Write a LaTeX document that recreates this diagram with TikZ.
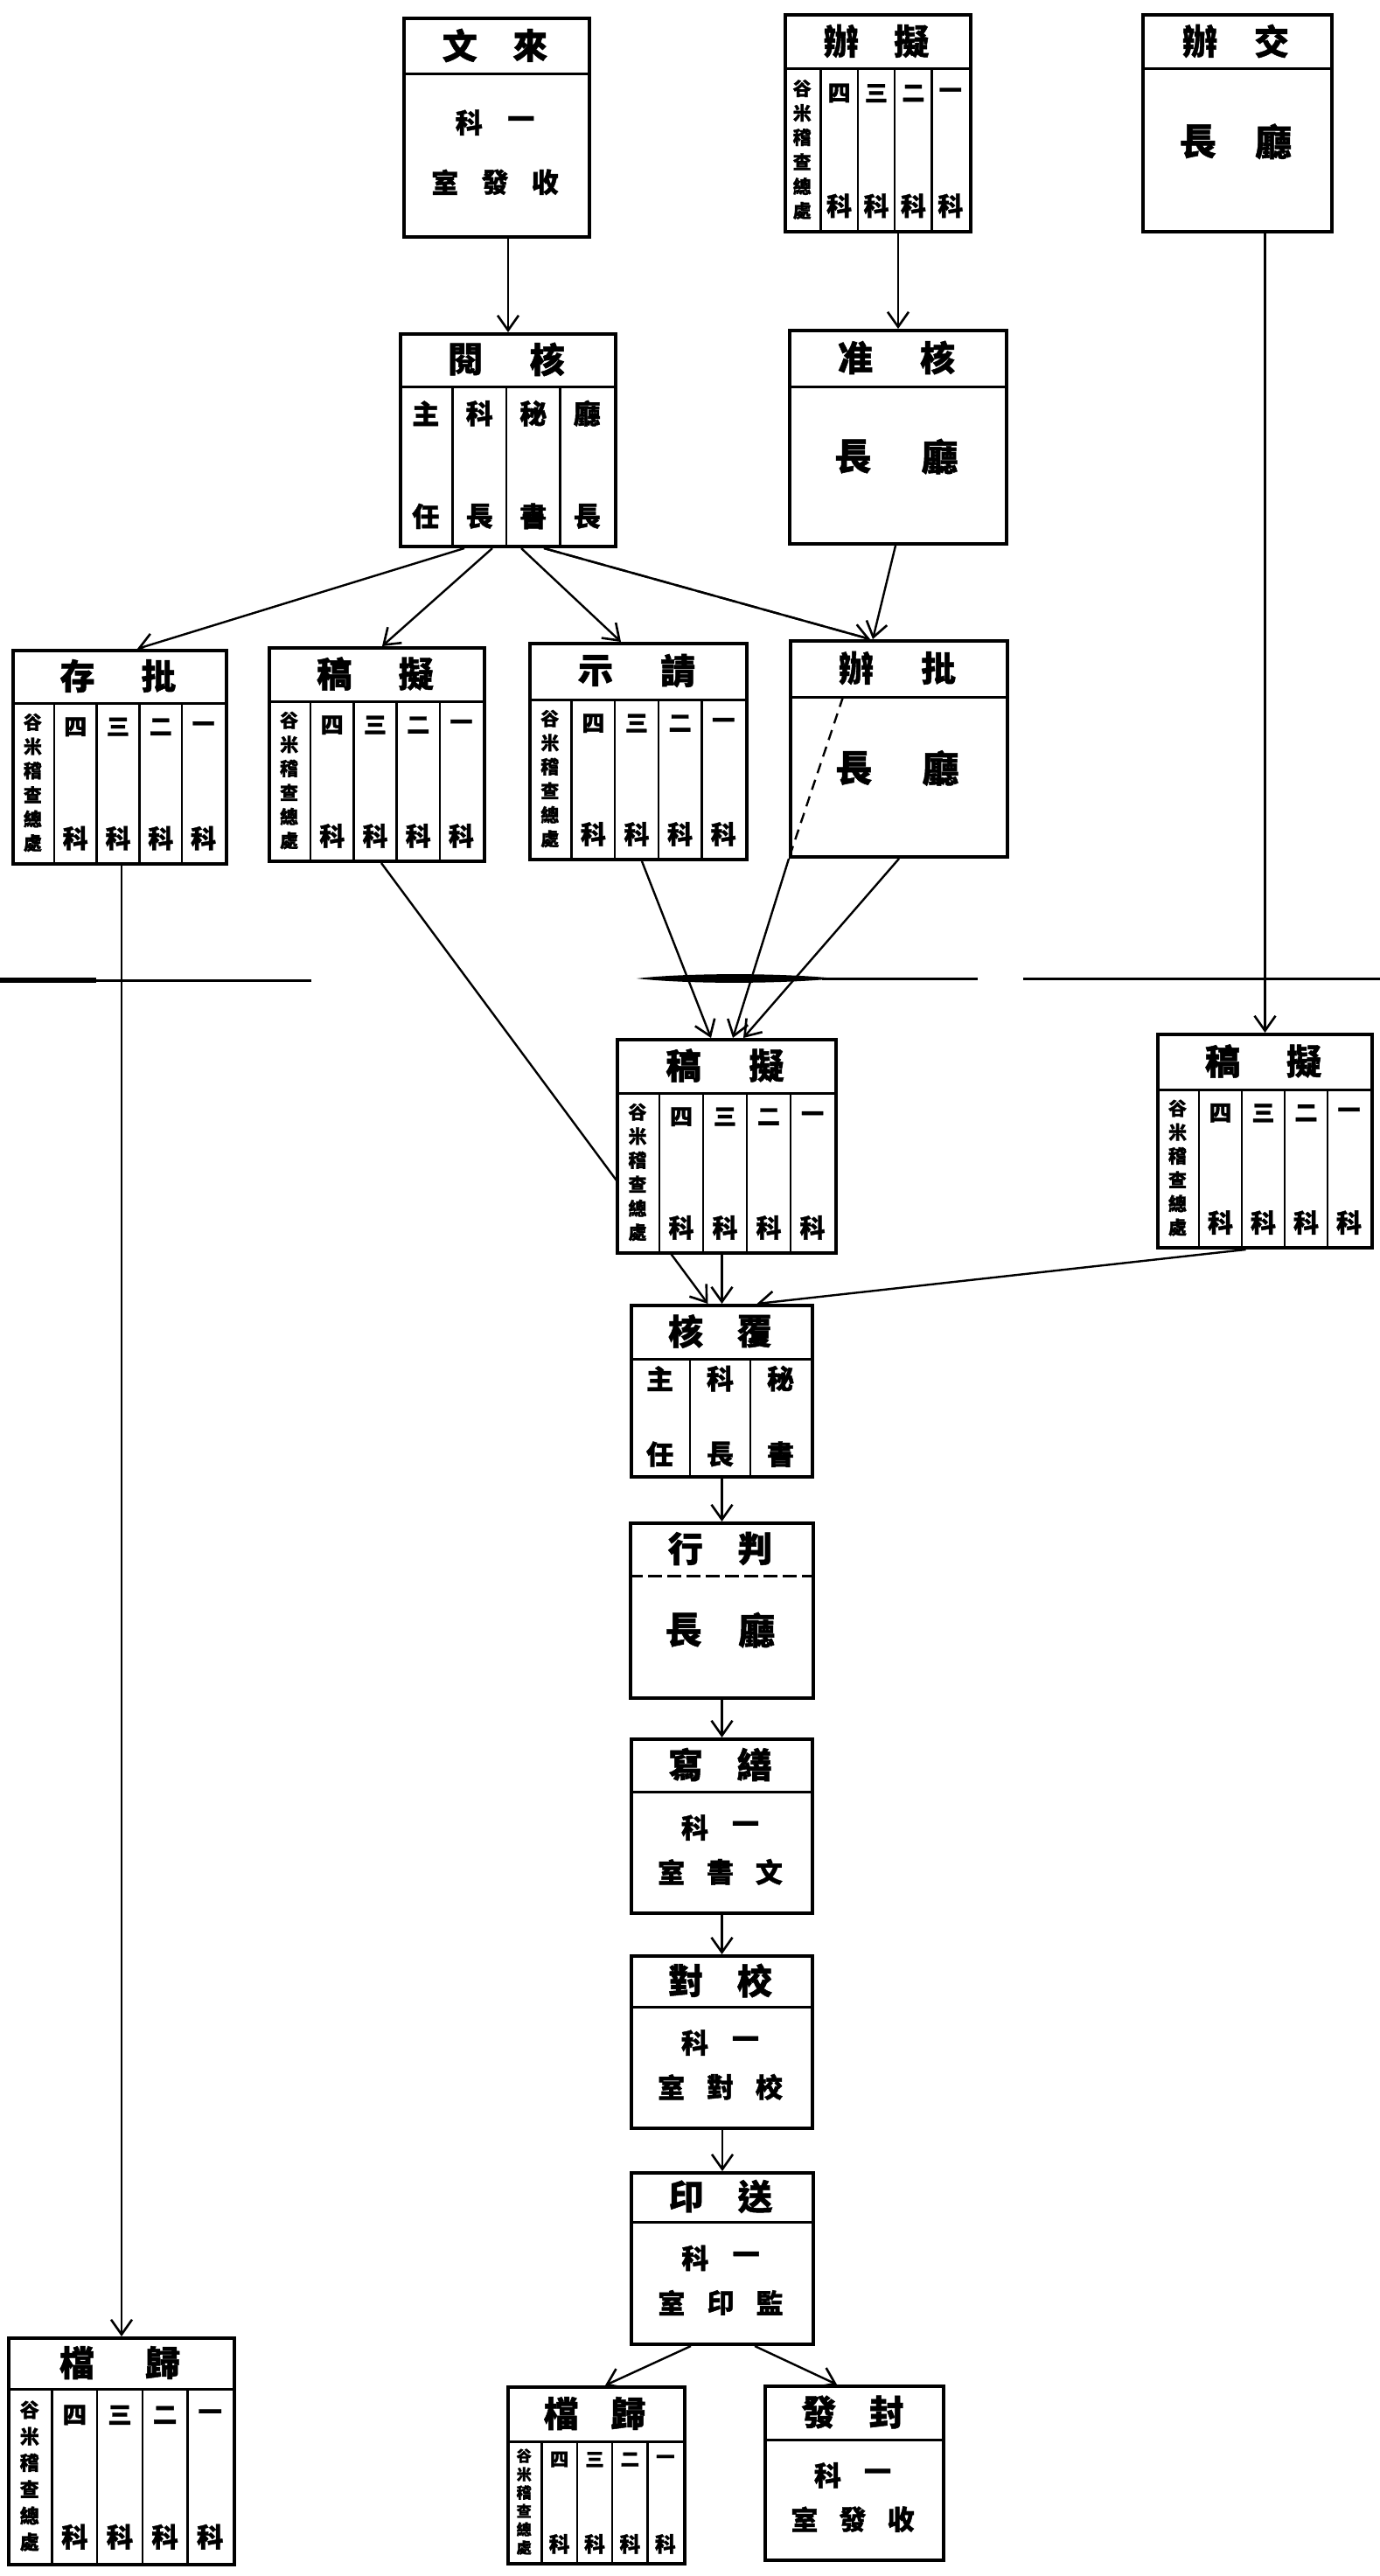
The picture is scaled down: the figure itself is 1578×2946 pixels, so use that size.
\documentclass[tikz,border=0pt]{standalone}
\usepackage{fontspec}
\newfontfamily\cjk{Noto Sans CJK TC}[BoldFeatures={FakeBold=1.2}]
\usetikzlibrary{arrows.meta,calc}
\pgfdeclarelayer{back}
\pgfsetlayers{back,main}
\tikzset{
  boxst/.style={draw, line width=4pt, fill=white, inner sep=0pt, rectangle},
  divst/.style={line width=3pt},
  colst/.style={line width=2.5pt},
  conn/.style={line width=2.4pt},
  arr/.style={conn, -{Straight Barb[length=17pt,width=24pt,line width=2.6pt]}},
  dconn/.style={conn, dash pattern=on 20pt off 6pt},
  txt/.style={inner sep=0pt, font={\cjk\bfseries\fontsize{#1}{#1}\selectfont}},
  txt/.default=30,
  rule/.style={line width=3pt},
}
% box: [divider style] name, left, top, width, height, header height
\newcommand\drawbox[7][solid]{%
  \def\mbL{#3}\def\mbT{#4}\def\mbW{#5}\def\mbH{#6}\def\mbHH{#7}%
  \node[boxst, minimum width=#5pt, minimum height=#6pt, anchor=north west] (#2) at (#3,#4) {};
  \pgfmathsetmacro\myY{#4+#7}\pgfmathsetmacro\myR{#3+#5}%
  \draw[divst,#1] (#3,\myY) -- (\myR,\myY);
}
\newcommand\dohead[3]{%
  \pgfmathsetmacro\myY{\mbT+\mbHH/2}%
  \pgfmathsetmacro\myXa{\mbL+0.31*\mbW}%
  \pgfmathsetmacro\myXb{\mbL+0.69*\mbW}%
  \node[txt=40] (#1-h1) at (\myXa,\myY) {#2};
  \node[txt=40] (#1-h2) at (\myXb,\myY) {#3};
}
\newcommand\dobodyA[1]{%
  \pgfmathsetmacro\myY{\mbT+\mbHH+0.45*(\mbH-\mbHH)}%
  \pgfmathsetmacro\myXa{\mbL+0.30*\mbW}%
  \pgfmathsetmacro\myXb{\mbL+0.70*\mbW}%
  \node[txt=42] (#1-b1) at (\myXa,\myY) {長};
  \node[txt=42] (#1-b2) at (\myXb,\myY) {廳};
}
\newcommand\dobodyB[4]{%
  \pgfmathsetmacro\myYa{\mbT+\mbHH+0.30*(\mbH-\mbHH)}%
  \pgfmathsetmacro\myYb{\mbT+\mbHH+0.67*(\mbH-\mbHH)}%
  \node[txt=31] (#1-b1) at ({\mbL+0.36*\mbW},\myYa) {科};
  \node[txt=31] (#1-b2) at ({\mbL+0.64*\mbW},\myYa) {一};
  \node[txt=31] (#1-b3) at ({\mbL+0.23*\mbW},\myYb) {#2};
  \node[txt=31] (#1-b4) at ({\mbL+0.50*\mbW},\myYb) {#3};
  \node[txt=31] (#1-b5) at ({\mbL+0.77*\mbW},\myYb) {#4};
}
% columns: name, n, list top/bottom
\newcommand\docols[3]{%
  \pgfmathsetmacro\myBT{\mbT+\mbHH}\pgfmathsetmacro\myBH{\mbH-\mbHH}%
  \pgfmathtruncatemacro\myN{#2-1}%
  \foreach \i in {1,...,\myN} {\draw[colst] ({\mbL+\i*\mbW/#2},\myBT) -- ({\mbL+\i*\mbW/#2},{\mbT+\mbH});}
  \foreach [count=\i] \ta/\tb in {#3} {
    \node[txt=31] (#1-c\i-a) at ({\mbL+(\i-0.5)*\mbW/#2},{\myBT+0.17*\myBH}) {\ta};
    \node[txt=31] (#1-c\i-b) at ({\mbL+(\i-0.5)*\mbW/#2},{\myBT+0.82*\myBH}) {\tb};
  }
}
% five offices: [scale] name
\newcommand\dofive[2][1]{%
  \pgfmathsetmacro\myBT{\mbT+\mbHH}\pgfmathsetmacro\myBH{\mbH-\mbHH}%
  \pgfmathsetmacro\myFa{21*#1}\pgfmathsetmacro\myFb{26*#1}\pgfmathsetmacro\myFc{29*#1}%
  \foreach \i in {1,...,4} {\draw[colst] ({\mbL+\i*\mbW/5},\myBT) -- ({\mbL+\i*\mbW/5},{\mbT+\mbH});}
  \foreach [count=\j] \c in {谷,米,稽,查,總,處} {
    \node[txt=\myFa] (#2-g\j) at ({\mbL+0.5*\mbW/5},{\myBT+\myBH*(0.12+(\j-1)*0.152)}) {\c};
  }
  \foreach [count=\j] \c in {四,三,二,一} {
    \node[txt=\myFb] (#2-n\j) at ({\mbL+(\j+0.5)*\mbW/5},{\myBT+0.15*\myBH}) {\c};
    \node[txt=\myFc] (#2-k\j) at ({\mbL+(\j+0.5)*\mbW/5},{\myBT+0.85*\myBH}) {科};
  }
}
\begin{document}
\begin{tikzpicture}[x=1pt,y=-1pt]
\useasboundingbox (0,0) rectangle (1578,2946);
\begin{pgfonlayer}{back}
  \fill[white] (0,0) rectangle (1578,2946);
\end{pgfonlayer}

% ---- top row
\drawbox{lw}{460}{19}{212}{250}{66}\dohead{lw}{文}{來}\dobodyB{lw}{室}{發}{收}
\drawbox{nb1}{896}{15}{212}{248}{64}\dohead{nb1}{辦}{擬}\dofive{nb1}
\drawbox{jb}{1305}{15}{216}{248}{64}\dohead{jb}{辦}{交}\dobodyA{jb}
% ---- second row
\drawbox{hy}{456}{380}{246}{243}{62}\dohead{hy}{閱}{核}\docols{hy}{4}{主/任,科/長,秘/書,廳/長}
\drawbox{hz}{901}{376}{248}{244}{66}\dohead{hz}{准}{核}\dobodyA{hz}
% ---- third row
\drawbox{pc}{13}{742}{244}{244}{62}\dohead{pc}{存}{批}\dofive{pc}
\drawbox{ngL}{306}{739}{246}{244}{63}\dohead{ngL}{稿}{擬}\dofive{ngL}
\drawbox{qs}{604}{734}{248}{247}{66}\dohead{qs}{示}{請}\dofive{qs}
\drawbox{pb}{902}{731}{248}{247}{66}\dohead{pb}{辦}{批}\dobodyA{pb}
% ---- fourth row
\drawbox{ngC}{704}{1187}{250}{244}{63}\dohead{ngC}{稿}{擬}\dofive{ngC}
\drawbox{ngR}{1322}{1181}{245}{244}{65}\dohead{ngR}{稿}{擬}\dofive{ngR}
% ---- chain
\drawbox{fh}{720}{1491}{207}{196}{63}\dohead{fh}{核}{覆}\docols{fh}{3}{主/任,科/長,秘/書}
\drawbox[dash pattern=on 16pt off 6pt]{px}{719}{1740}{209}{200}{62}\dohead{px}{行}{判}\dobodyA{px}
\drawbox{sx}{720}{1987}{207}{199}{62}\dohead{sx}{寫}{繕}\dobodyB{sx}{室}{書}{文}
\drawbox{jd}{720}{2235}{207}{197}{60}\dohead{jd}{對}{校}\dobodyB{jd}{室}{對}{校}
\drawbox{sy}{720}{2483}{208}{196}{58}\dohead{sy}{印}{送}\dobodyB{sy}{室}{印}{監}
% ---- bottom row
\drawbox{gdL}{8}{2672}{258}{259}{60}\dohead{gdL}{檔}{歸}\dofive[1.05]{gdL}
\drawbox{gdC}{579}{2728}{202}{202}{64}\dohead{gdC}{檔}{歸}\dofive[0.82]{gdC}
\drawbox{ff}{873}{2727}{204}{199}{63}\dohead{ff}{發}{封}\dobodyB{ff}{室}{發}{收}

% ---- dashed part of the line inside 批辦
\draw[conn, dash pattern=on 12pt off 8pt] ($(pb.north west)+(62,66)$) -- (pb.south west);

% ---- horizontal rule across the page
\draw[rule] (0,1121) -- (356,1121);
\draw[line width=6pt] (0,1121) -- (110,1121);
\fill (728,1119) .. controls (790,1112) and (900,1113) .. (955,1119) .. controls (900,1125) and (790,1126) .. (728,1119);
\draw[rule] (940,1119) -- (1118,1119);
\draw[rule] (1170,1119) -- (1578,1119);

% ---- connectors
\begin{pgfonlayer}{back}
  \draw[arr] (hy.north |- lw.south) -- (hy.north);
  \draw[arr] (hz.north |- nb1.south) -- (hz.north);
  \draw[arr] (ngR.north |- jb.south) -- (ngR.north);
  \draw[arr] ($(hy.south)+(-50,0)$) -- ($(pc.north)+(20,0)$);
  \draw[arr] ($(hy.south)+(-18,0)$) -- ($(ngL.north)+(6,0)$);
  \draw[arr] ($(hy.south)+(15,0)$) -- ($(qs.north)+(-20,0)$);
  \draw[dconn] ($(hy.south)+(41,0)$) -- ($(pb.north)+(-33,0)$);
  \draw[arr] ($(hy.south)+(41,0)$) -- ($(pb.north)+(-33,0)$);
  \draw[arr] ($(hz.south)+(-3,0)$) -- ($(pb.north)+(-30,0)$);
  \draw[arr] (gdL.north |- pc.south) -- (gdL.north);
  \draw[arr] ($(ngL.south)+(5,0)$) -- ($(fh.north)+(-16,0)$);
  \draw[arr] ($(qs.south)+(4,0)$) -- ($(ngC.north)+(-18,0)$);
  \draw[arr] (pb.south west) -- ($(ngC.north)+(7,0)$);
  \draw[arr] (pb.south) -- ($(ngC.north)+(19,0)$);
  \draw[arr] (fh.north |- ngC.south) -- (fh.north);
  \draw[arr] ($(ngR.south)+(-22,0)$) -- ($(fh.north)+(40,0)$);
  \draw[arr] (px.north |- fh.south) -- (px.north);
  \draw[arr] (sx.north |- px.south) -- (sx.north);
  \draw[arr] (jd.north |- sx.south) -- (jd.north);
  \draw[arr] (sy.north |- jd.south) -- (sy.north);
  \draw[arr] ($(sy.south)+(-36,0)$) -- ($(gdC.north)+(10,0)$);
  \draw[arr] ($(sy.south)+(37,0)$) -- ($(ff.north)+(-20,0)$);
\end{pgfonlayer}
\end{tikzpicture}
\end{document}
